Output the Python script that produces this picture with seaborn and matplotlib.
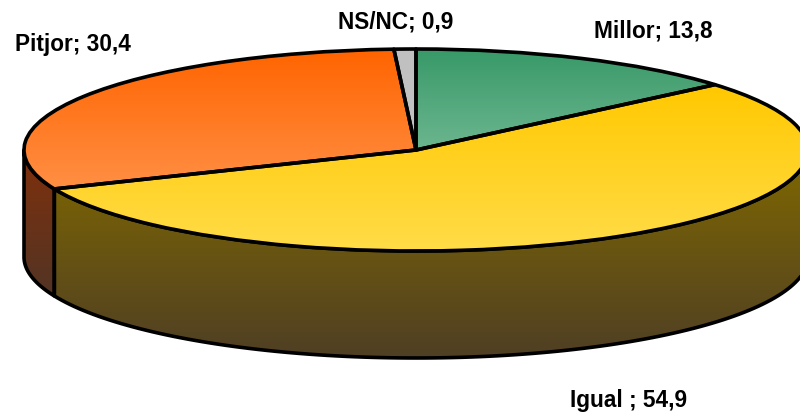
import numpy as np
import matplotlib
matplotlib.use("Agg")
import matplotlib.pyplot as plt
from matplotlib.patches import Polygon
import seaborn as sns

categories = ["Millor", "Igual ", "Pitjor", "NS/NC"]
values = [13.8, 54.9, 30.4, 0.9]

# degradats de cada sector: cara superior i lateral
top_colors = [("#389968", "#6cb68f"), ("#ffc800", "#ffdc48"), ("#ff6400", "#ff8f44"), ("#c0c0c0", "#c4c4c4")]
side_colors = [("#1c4c34", "#1c4c34"), ("#806800", "#4f3f24"), ("#80300c", "#523424"), ("#606060", "#606060")]

# posicio de les etiquetes en pixels (esquerra, centre vertical)
label_pos = [(594, 31), (570, 401), (15, 44), (338, 22)]

W, H = 800, 418
CX, CY = 416, 150
RX, RY = 392, 101
DEPTH = 107 / RY
LW = 2.6

sns.set_theme(style="white")
plt.rcParams["font.family"] = ["Liberation Sans", "DejaVu Sans"]

fig = plt.figure(figsize=(W / 100, H / 100), dpi=100)
ax = fig.add_axes([0, 0, 1, 1])

wedges, _ = ax.pie(values, startangle=90, counterclock=False, radius=1,
                   wedgeprops={"edgecolor": "black", "linewidth": LW, "joinstyle": "round"})


def gradient(patch, x0, x1, y0, y1, cols, z):
    # degradat vertical retallat a la forma del sector
    cmap = sns.blend_palette(cols, as_cmap=True)
    grad = np.linspace(0, 1, 256).reshape(-1, 1)
    im = ax.imshow(grad, cmap=cmap, extent=(x0, x1, y0, y1), origin="upper",
                   aspect="auto", zorder=z)
    im.set_clip_path(patch)


for wedge, top, side in zip(wedges, top_colors, side_colors):
    # lateral: nomes la part de davant (180-360 graus)
    start = wedge.theta1 % 360
    end = start + (wedge.theta2 - wedge.theta1)
    for lo, hi in [(180, 360), (540, 720)]:
        a = max(start, lo)
        b = min(end, hi)
        if b <= a:
            continue
        th = np.radians(np.linspace(a, b, 120))
        xs = np.cos(th)
        ys = np.sin(th)
        pts = np.r_[np.c_[xs, ys], np.c_[xs, ys - DEPTH][::-1]]
        poly = Polygon(pts, closed=True, facecolor="none", edgecolor="black",
                       linewidth=LW, joinstyle="round", zorder=3)
        ax.add_patch(poly)
        gradient(poly, xs.min(), xs.max(), pts[:, 1].min(), pts[:, 1].max(), side, 2)

    # cara superior
    verts = wedge.get_path().vertices * wedge.r + np.array(wedge.center)
    wedge.set_facecolor("none")
    wedge.set_zorder(5)
    gradient(wedge, verts[:, 0].min(), verts[:, 0].max(), verts[:, 1].min(), verts[:, 1].max(), top, 4)

ax.set_aspect("auto")
ax.set_xlim(-CX / RX, (W - CX) / RX)
ax.set_ylim(-(H - CY) / RY, CY / RY)
ax.axis("off")

for cat, val, (px, py) in zip(categories, values, label_pos):
    txt = f"{cat}; {val:.1f}".replace(".", ",")
    fig.text(px / W, 1 - py / H, txt, ha="left", va="center", fontsize=16.3,
             fontweight="bold", color="black")

fig.savefig("out.png", dpi=100)
plt.close()
